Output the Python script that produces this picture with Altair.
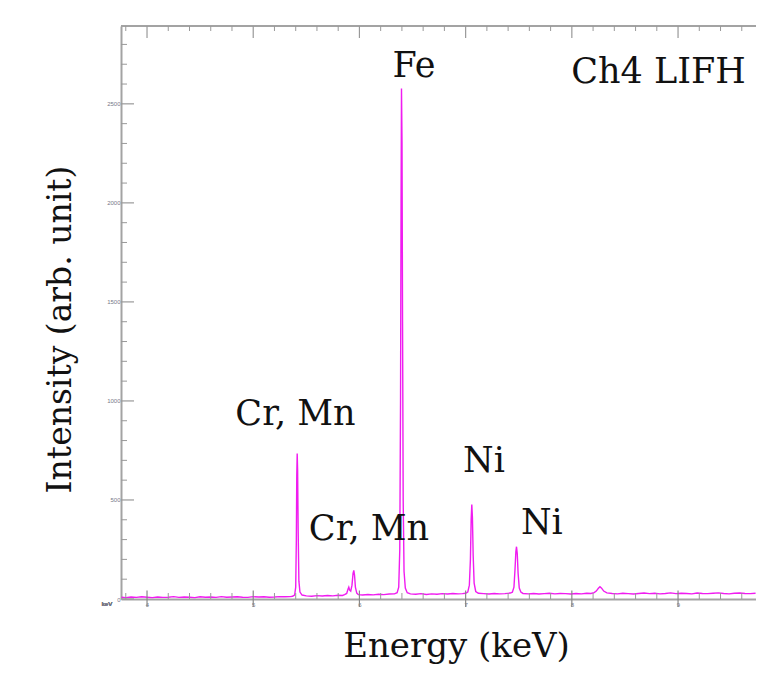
import altair as alt
import pandas as pd

# ---------------- data ----------------
energy = [
    3.76, 3.80, 3.85, 3.90, 3.95, 4.00, 4.05, 4.10, 4.15, 4.20, 4.25, 4.30, 4.35, 4.40, 4.45,
    4.50, 4.55, 4.60, 4.65, 4.70, 4.75, 4.80, 4.85, 4.90, 4.95, 5.00, 5.05, 5.10, 5.15, 5.20,
    5.25, 5.30, 5.35,
    5.37, 5.39, 5.400, 5.406, 5.410, 5.414, 5.418, 5.423, 5.430, 5.440, 5.46,
    5.50, 5.55, 5.60, 5.65, 5.70, 5.75, 5.80, 5.84,
    5.86, 5.88, 5.893, 5.900, 5.908, 5.918, 5.930, 5.940, 5.947, 5.954, 5.962, 5.975, 5.99,
    6.03, 6.08, 6.13, 6.18, 6.23, 6.28, 6.33,
    6.355, 6.370, 6.380, 6.387, 6.392, 6.396, 6.401, 6.406, 6.412, 6.420, 6.432, 6.45, 6.48,
    6.53, 6.58, 6.63, 6.68, 6.73, 6.78, 6.83, 6.88, 6.93, 6.97, 7.00,
    7.02, 7.035, 7.045, 7.052, 7.058, 7.064, 7.071, 7.080, 7.095, 7.12,
    7.17, 7.22, 7.27, 7.32, 7.37, 7.42,
    7.44, 7.455, 7.465, 7.473, 7.479, 7.486, 7.494, 7.505, 7.52, 7.54,
    7.59, 7.64, 7.69, 7.74, 7.79, 7.84, 7.89, 7.94, 7.99, 8.04, 8.09, 8.14, 8.18,
    8.21, 8.23, 8.25, 8.265, 8.28, 8.30, 8.33,
    8.38, 8.43, 8.48, 8.53, 8.58, 8.63, 8.68, 8.73, 8.78, 8.83, 8.88, 8.93, 8.98, 9.03,
    9.08, 9.13, 9.18, 9.23, 9.28, 9.33, 9.38, 9.43, 9.48, 9.53, 9.58, 9.63, 9.68, 9.73,
]
counts = [
    9, 7, 10, 8, 11, 9, 7, 10, 8, 9, 12, 8, 10, 9, 7,
    11, 9, 10, 8, 12, 9, 10, 11, 9, 8, 12, 10, 11, 9, 10,
    12, 11, 12,
    14, 20, 60, 300, 620, 734, 650, 350, 90, 35, 20,
    16, 14, 17, 15, 18, 16, 19, 18,
    22, 28, 50, 60, 45, 40, 70, 130, 144, 120, 60, 30, 22,
    20, 23, 21, 24, 22, 25, 26,
    32, 60, 250, 1000, 2000, 2577, 2300, 1400, 500, 140, 55, 32, 26,
    24, 27, 23, 26, 24, 27, 25, 28, 26, 27, 29,
    35, 70, 200, 400, 477, 410, 220, 80, 38, 29,
    27, 25, 28, 26, 27, 30,
    34, 60, 150, 240, 264, 230, 130, 55, 35, 28,
    26, 28, 25, 27, 29, 26, 28, 27, 25, 28, 26, 29, 28,
    32, 40, 54, 62, 55, 40, 31,
    28, 26, 29, 27, 25, 28, 30, 27, 29, 26, 28, 31, 27, 29,
    28, 26, 30, 28, 27, 29, 31, 28, 26, 29, 30, 28, 27, 29,
]

label_text = ["Fe", "Ch4 LIFH", "Cr, Mn", "Cr, Mn", "Ni", "Ni"]
label_energy = [6.514, 8.816, 5.398, 6.090, 7.173, 7.717]
label_counts = [2634, 2607, 881, 299, 639, 329]

x_major = [4, 5, 6, 7, 8, 9]
x_minor = [3.8, 4.2, 4.4, 4.6, 4.8, 5.2, 5.4, 5.6, 5.8, 6.2, 6.4, 6.6, 6.8,
           7.2, 7.4, 7.6, 7.8, 8.2, 8.4, 8.6, 8.8, 9.2, 9.4, 9.6]
y_major = [0, 500, 1000, 1500, 2000, 2500]
y_minor = [100, 200, 300, 400, 600, 700, 800, 900, 1100, 1200, 1300, 1400,
           1600, 1700, 1800, 1900, 2100, 2200, 2300, 2400, 2600, 2700, 2800]

# ---------------- chart ----------------
W, H = 635, 573
AX = "#a3a3a3"
SERIF = "DejaVu Serif"

xs = alt.Scale(domain=[3.755, 9.734], nice=False, zero=False)
ys = alt.Scale(domain=[0, 2893], nice=False, zero=False)

spec = pd.DataFrame({"energy": energy, "counts": counts})
labels = pd.DataFrame({"energy": label_energy, "counts": label_counts, "text": label_text})
xmaj = pd.DataFrame({"energy": x_major})
xmin = pd.DataFrame({"energy": x_minor})
ymaj = pd.DataFrame({"counts": y_major})
ymin = pd.DataFrame({"counts": y_minor})

x_axis = alt.Axis(values=x_major, format="d", tickSize=0, labelFontSize=6,
                  labelColor="#777788", labelPadding=2, domainColor=AX, domainWidth=2,
                  grid=False, title="Energy (keV)", titleFont=SERIF, titleFontSize=34,
                  titleFontWeight="normal", titleColor="#111111",
                  titleX=335, titleY=57, titleAlign="center", titleBaseline="alphabetic")
y_axis = alt.Axis(values=y_major, format="d", tickSize=0, labelFontSize=6,
                  labelColor="#777788", labelPadding=1, domainColor=AX, domainWidth=2,
                  grid=False, title="Intensity (arb. unit)", titleFont=SERIF,
                  titleFontSize=33, titleFontWeight="normal", titleColor="#111111",
                  titleAngle=270, titleX=-51, titleY=303, titleAlign="center",
                  titleBaseline="alphabetic")

line = alt.Chart(spec).mark_line(color="#f01cf0", strokeWidth=1.4, clip=True).encode(
    x=alt.X("energy:Q", scale=xs, axis=x_axis),
    y=alt.Y("counts:Q", scale=ys, axis=y_axis),
)

top_border = alt.Chart(xmaj).mark_rule(color=AX, strokeWidth=2).encode(
    x=alt.value(0), x2=alt.value(W), y=alt.value(0)
)

bx_major = alt.Chart(xmaj).mark_rule(color="#888888", strokeWidth=1.2).encode(
    x=alt.X("energy:Q", scale=xs), y=alt.value(H - 8.5), y2=alt.value(H + 8)
)
bx_minor = alt.Chart(xmin).mark_rule(color="#999999", strokeWidth=1).encode(
    x=alt.X("energy:Q", scale=xs), y=alt.value(H - 6), y2=alt.value(H)
)
tx_major = alt.Chart(xmaj).mark_rule(color="#999999", strokeWidth=1.2).encode(
    x=alt.X("energy:Q", scale=xs), y=alt.value(0), y2=alt.value(12)
)
tx_minor = alt.Chart(xmin).mark_rule(color="#999999", strokeWidth=1).encode(
    x=alt.X("energy:Q", scale=xs), y=alt.value(0), y2=alt.value(5)
)
ly_major = alt.Chart(ymaj).mark_rule(color="#999999", strokeWidth=1.2).encode(
    y=alt.Y("counts:Q", scale=ys), x=alt.value(0), x2=alt.value(13)
)
ly_minor = alt.Chart(ymin).mark_rule(color="#999999", strokeWidth=1).encode(
    y=alt.Y("counts:Q", scale=ys), x=alt.value(0), x2=alt.value(6)
)

kev = alt.Chart(xmaj).mark_text(text="keV", fontSize=6, color="#777788",
                                 align="center", baseline="alphabetic").encode(
    x=alt.value(-14), y=alt.value(H + 7)
)

annot = alt.Chart(labels).mark_text(font=SERIF, fontSize=35, color="#111111",
                                     align="center", baseline="alphabetic").encode(
    x=alt.X("energy:Q", scale=xs),
    y=alt.Y("counts:Q", scale=ys),
    text="text:N",
)

chart = alt.layer(
    line, top_border, bx_major, bx_minor, tx_major, tx_minor, ly_major, ly_minor, kev, annot
).properties(
    width=W, height=H,
    autosize=alt.AutoSizeParams(type="none"),
    padding={"left": 113, "top": 18, "right": 0, "bottom": 65},
    background="white",
).configure_view(stroke=None)

chart.save("out.html", embed_options={"renderer": "svg", "actions": False})
